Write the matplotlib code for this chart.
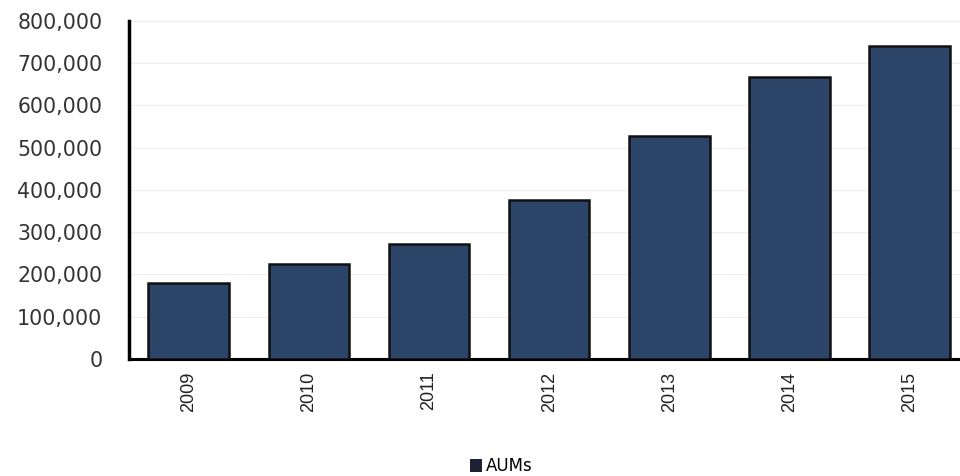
import matplotlib.pyplot as plt
from matplotlib.ticker import FuncFormatter

years = ["2009", "2010", "2011", "2012", "2013", "2014", "2015"]
aums = [180000, 225000, 272000, 376000, 528000, 667000, 741000]

fig = plt.figure(figsize=(9.6, 4.76), dpi=100)
ax = fig.add_axes([0.134, 0.246, 0.866, 0.71])

x = range(len(years))
ax.bar(x, aums, width=0.67, color="#2c4468", edgecolor="#111111",
       linewidth=1.8, zorder=3)

ax.set_ylim(0, 800000)
ax.set_xlim(-0.5, 6.42)
ax.set_yticks(range(0, 800001, 100000))
ax.yaxis.set_major_formatter(FuncFormatter(lambda v, p: f"{int(v):,}"))
ax.set_xticks(list(x))
ax.set_xticklabels(years, rotation=90, fontsize=13, family="Liberation Sans",
                   color="#222222")
for lbl in ax.get_yticklabels():
    lbl.set_fontsize(14.8)
    lbl.set_color("#333333")
    lbl.set_family("DejaVu Sans")

ax.grid(axis="y", color="#eeeeee", linewidth=0.8, zorder=0)
ax.tick_params(length=0)
ax.tick_params(axis="y", pad=19)
ax.tick_params(axis="x", pad=9)
for side in ["top", "right"]:
    ax.spines[side].set_visible(False)
ax.spines["left"].set_linewidth(2.5)
ax.spines["bottom"].set_linewidth(2.2)

# legend entry for the series
handle = plt.Rectangle((0, 0), 1, 1, facecolor="#1c2233", edgecolor="none")
fig.legend([handle], ["AUMs"], loc="lower center", bbox_to_anchor=(0.522, -0.03),
           frameon=False, handlelength=0.75, handleheight=0.75, handletextpad=0.2,
           prop={"family": "DejaVu Sans", "size": 12})

fig.savefig("out.png", dpi=100)
